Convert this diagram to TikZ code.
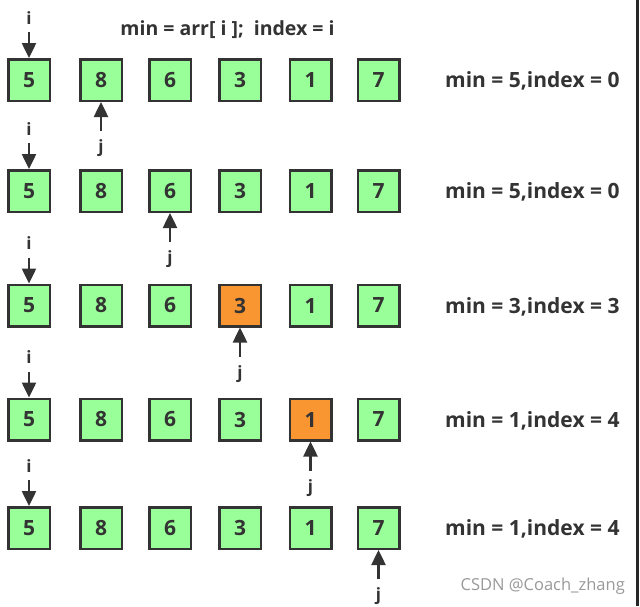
\documentclass[tikz,border=0pt]{standalone}
\usepackage{fontspec}
\setmainfont{Open Sans}
\usetikzlibrary{positioning,arrows.meta}
\definecolor{cellgreen}{HTML}{99FF99}
\definecolor{cellorange}{HTML}{FA9632}
\definecolor{ink}{HTML}{333333}
\tikzset{
  cell/.style={draw=ink,line width=2.5pt,fill=cellgreen,minimum size=41.5pt,inner sep=0pt,text=ink,font=\fontsize{21}{24}\selectfont\bfseries},
  hit/.style={cell,fill=cellorange},
  ptr/.style={draw=ink,line width=2.5pt,-{Triangle[length=15pt,width=14pt]}},
  lbl/.style={inner sep=0pt,outer sep=0pt,text=ink,font=\fontsize{17}{20}\selectfont\bfseries},
  note/.style={anchor=west,inner sep=0pt,text=ink,font=\fontsize{21}{24}\selectfont\bfseries}
}
\begin{document}
\begin{tikzpicture}[x=1pt,y=-1pt]
  \useasboundingbox[fill=white] (0,0) rectangle (640,606);
  \node[lbl,font=\fontsize{19.5}{22}\selectfont\bfseries] (head) at (227.5,30) {min = arr[ i ];\ \ index = i};

  \node[cell] (r1c0) at (29,80) {5};
  \node[cell] (r1c1) at (101,80) {8};
  \node[cell] (r1c2) at (170,80) {6};
  \node[cell] (r1c3) at (240,80) {3};
  \node[cell] (r1c4) at (310.5,80) {1};
  \node[cell] (r1c5) at (378.5,80) {7};
  \node[note] (n1) at (445,81) {min = 5,index = 0};
  \node[lbl,above=34pt of r1c0] (i1) {i};
  \node[lbl,below=38pt of r1c1] (j1) {j};
  \draw[ptr,shorten <=8pt] (i1.south) -- (r1c0.north);
  \draw[ptr,shorten <=9pt] (j1.north) -- (r1c1.south);

  \node[cell] (r2c0) at (29,191) {5};
  \node[cell] (r2c1) at (101,191) {8};
  \node[cell] (r2c2) at (170,191) {6};
  \node[cell] (r2c3) at (240,191) {3};
  \node[cell] (r2c4) at (310.5,191) {1};
  \node[cell] (r2c5) at (378.5,191) {7};
  \node[note] (n2) at (445,192) {min = 5,index = 0};
  \node[lbl,above=34pt of r2c0] (i2) {i};
  \node[lbl,below=38pt of r2c2] (j2) {j};
  \draw[ptr,shorten <=8pt] (i2.south) -- (r2c0.north);
  \draw[ptr,shorten <=9pt] (j2.north) -- (r2c2.south);

  \node[cell] (r3c0) at (29,305.5) {5};
  \node[cell] (r3c1) at (101,305.5) {8};
  \node[cell] (r3c2) at (170,305.5) {6};
  \node[hit] (r3c3) at (240,305.5) {3};
  \node[cell] (r3c4) at (310.5,305.5) {1};
  \node[cell] (r3c5) at (378.5,305.5) {7};
  \node[note] (n3) at (445,306.5) {min = 3,index = 3};
  \node[lbl,above=34pt of r3c0] (i3) {i};
  \node[lbl,below=38pt of r3c3] (j3) {j};
  \draw[ptr,shorten <=8pt] (i3.south) -- (r3c0.north);
  \draw[ptr,shorten <=9pt] (j3.north) -- (r3c3.south);

  \node[cell] (r4c0) at (29,419.5) {5};
  \node[cell] (r4c1) at (101,419.5) {8};
  \node[cell] (r4c2) at (170,419.5) {6};
  \node[cell] (r4c3) at (240,419.5) {3};
  \node[hit] (r4c4) at (310.5,419.5) {1};
  \node[cell] (r4c5) at (378.5,419.5) {7};
  \node[note] (n4) at (445,420.5) {min = 1,index = 4};
  \node[lbl,above=34pt of r4c0] (i4) {i};
  \node[lbl,below=38pt of r4c4] (j4) {j};
  \draw[ptr,shorten <=8pt] (i4.south) -- (r4c0.north);
  \draw[ptr,shorten <=9pt] (j4.north) -- (r4c4.south);

  \node[cell] (r5c0) at (29,528) {5};
  \node[cell] (r5c1) at (101,528) {8};
  \node[cell] (r5c2) at (170,528) {6};
  \node[cell] (r5c3) at (240,528) {3};
  \node[cell] (r5c4) at (310.5,528) {1};
  \node[cell] (r5c5) at (378.5,528) {7};
  \node[note] (n5) at (445,529) {min = 1,index = 4};
  \node[lbl,above=34pt of r5c0] (i5) {i};
  \node[lbl,below=38pt of r5c5] (j5) {j};
  \draw[ptr,shorten <=8pt] (i5.south) -- (r5c0.north);
  \draw[ptr,shorten <=9pt] (j5.north) -- (r5c5.south);

  \node[anchor=east,inner sep=0pt,text=black!40,font=\fontsize{16.5}{19}\selectfont] (mark) at (625,586) {CSDN @Coach\_zhang};
  \draw[draw=black!85,line width=2.5pt] (637.3,0) -- (637.3,606);
\end{tikzpicture}
\end{document}
